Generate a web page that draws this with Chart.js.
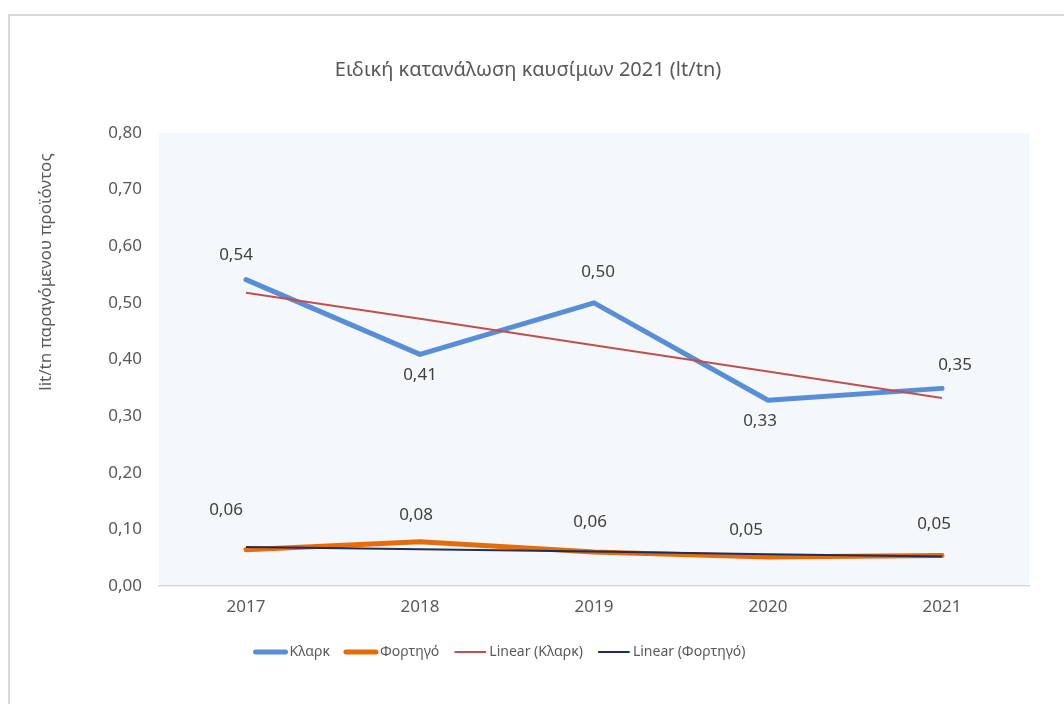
<!DOCTYPE html>
<html>
<head>
<meta charset="utf-8">
<script src="https://cdn.jsdelivr.net/npm/chart.js@4"></script>
<style>
  html, body { margin: 0; padding: 0; background: #fff; }
  #frame { position: absolute; left: 8px; top: 14px; width: 1100px; height: 800px; border: 2px solid #d9d9d9; }
  #chart { position: absolute; left: 0; top: 0; }
</style>
</head>
<body>
<div id="frame"></div>
<canvas id="chart" width="1064" height="704"></canvas>
<script>
// data
const years = ["2017", "2018", "2019", "2020", "2021"];
const clark = [0.541, 0.409, 0.500, 0.328, 0.349];
const truck = [0.064, 0.078, 0.060, 0.051, 0.054];
const clarkTrend = [0.518, 0.472, 0.425, 0.379, 0.332];
const truckTrend = [0.069, 0.065, 0.061, 0.056, 0.052];
const yTicks = [0, 0.1, 0.2, 0.3, 0.4, 0.5, 0.6, 0.7, 0.8];

const titleText = "Ειδική κατανάλωση καυσίμων 2021 (lt/tn)";
const yTitle = "lit/tn παραγόμενου προϊόντος";

// pixel nudges for the value labels, [dx, dy] from each point
const labelShift = [
  [[-10, -25], [0, 21], [4, -31], [-8, 21], [13, -23]],
  [[-20, -40], [-4, -27], [-4, -30], [-22, -27], [-8, -31]]
];

const FONT = "'Noto Sans', sans-serif";
const fmt = v => v.toFixed(2).replace(".", ",");

const plotBg = {
  id: "plotBg",
  beforeDraw(chart) {
    const { ctx, chartArea: a } = chart;
    ctx.save();
    ctx.fillStyle = "#f4f8fb";
    ctx.fillRect(a.left, a.top, a.right - a.left, a.bottom - a.top);
    ctx.restore();
  }
};

const extras = {
  id: "extras",
  afterDatasetsDraw(chart) {
    const ctx = chart.ctx;
    ctx.save();
    ctx.font = "17px " + FONT;
    ctx.fillStyle = "#404040";
    ctx.textAlign = "center";
    ctx.textBaseline = "middle";
    [0, 1].forEach(di => {
      const meta = chart.getDatasetMeta(di);
      meta.data.forEach((pt, i) => {
        const s = labelShift[di][i];
        ctx.fillText(fmt(chart.data.datasets[di].data[i]), pt.x + s[0], pt.y + s[1]);
      });
    });
    ctx.restore();
  },
  afterDraw(chart) {
    const ctx = chart.ctx;
    ctx.save();
    // title
    ctx.font = "20px " + FONT;
    ctx.fillStyle = "#595959";
    ctx.textAlign = "center";
    ctx.textBaseline = "middle";
    ctx.fillText(titleText, 528, 70);
    // y axis title
    ctx.font = "17px " + FONT;
    ctx.translate(46, 272);
    ctx.rotate(-Math.PI / 2);
    ctx.fillText(yTitle, 0, 0);
    ctx.setTransform(1, 0, 0, 1, 0, 0);
    // legend
    ctx.font = "14px " + FONT;
    ctx.textAlign = "left";
    const sets = chart.data.datasets;
    const lineLen = 32, gapText = 3, gapItem = 15;
    const widths = sets.map(d => lineLen + gapText + ctx.measureText(d.label).width);
    const total = widths.reduce((a, b) => a + b, 0) + gapItem * (sets.length - 1);
    let x = 500 - total / 2;
    const y = 652;
    sets.forEach((d, i) => {
      ctx.strokeStyle = d.borderColor;
      ctx.lineWidth = d.borderWidth;
      ctx.lineCap = "round";
      ctx.beginPath();
      ctx.moveTo(x + 1, y);
      ctx.lineTo(x + lineLen - 1, y);
      ctx.stroke();
      ctx.fillStyle = "#595959";
      ctx.fillText(d.label, x + lineLen + gapText, y);
      x += widths[i] + gapItem;
    });
    ctx.restore();
  }
};

new Chart(document.getElementById("chart"), {
  type: "line",
  data: {
    labels: years,
    datasets: [
      { label: "Κλαρκ", data: clark, borderColor: "#588dd7", borderWidth: 5, borderCapStyle: "round", borderJoinStyle: "round", order: 1 },
      { label: "Φορτηγό", data: truck, borderColor: "#e46c0a", borderWidth: 5, borderCapStyle: "round", borderJoinStyle: "round", order: 1 },
      { label: "Linear (Κλαρκ)", data: clarkTrend, borderColor: "#c0504d", borderWidth: 2, order: 0 },
      { label: "Linear (Φορτηγό)", data: truckTrend, borderColor: "#1f2d5c", borderWidth: 2, order: 0 }
    ]
  },
  options: {
    responsive: false,
    animation: false,
    devicePixelRatio: 1,
    layout: { padding: { left: 0, top: 133, right: 35, bottom: 0 } },
    elements: { point: { radius: 0 }, line: { tension: 0, fill: false } },
    plugins: { legend: { display: false }, title: { display: false }, tooltip: { enabled: false } },
    scales: {
      x: {
        offset: true,
        grid: { display: false, drawTicks: false },
        border: { display: true, color: "#d9d9d9", width: 1.5 },
        ticks: { color: "#595959", font: { family: FONT, size: 17 }, padding: 11 },
        afterFit(s) { s.height = 118; }
      },
      y: {
        min: 0, max: 0.8,
        afterBuildTicks(s) { s.ticks = yTicks.map(v => ({ value: v })); },
        grid: { display: false, drawTicks: false },
        border: { display: false },
        ticks: { color: "#595959", font: { family: FONT, size: 17 }, padding: 17, callback: v => fmt(v) },
        afterFit(s) { s.width = 159; }
      }
    }
  },
  plugins: [plotBg, extras]
});
</script>
</body>
</html>
